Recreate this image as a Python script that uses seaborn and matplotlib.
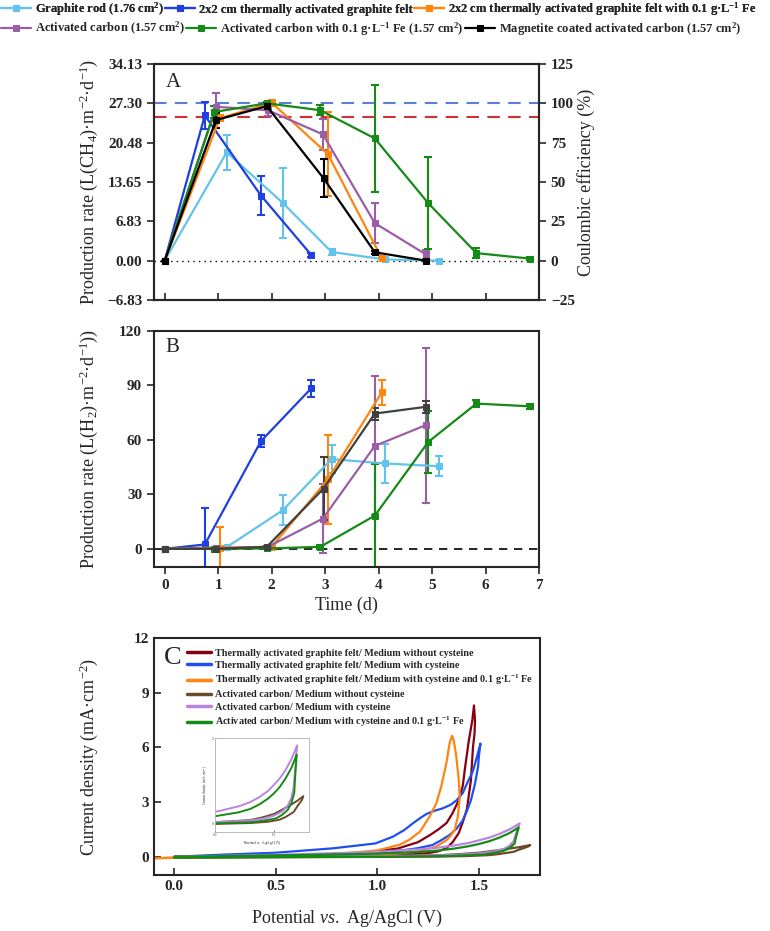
import matplotlib
matplotlib.use("Agg")
import matplotlib.pyplot as plt
import seaborn as sns
import numpy as np

# ---------------- data: panel A (CH4 production) ----------------
labels_series = [
    "Graphite rod (1.76 cm$^{\\mathbf{2}}$)",
    "2x2 cm thermally activated graphite felt",
    "2x2 cm thermally activated graphite felt with 0.1 g·L$^{\\mathbf{-1}}$ Fe",
    "Activated carbon (1.57 cm$^{\\mathbf{2}}$)",
    "Activated carbon with 0.1 g·L$^{\\mathbf{-1}}$ Fe (1.57 cm$^{\\mathbf{2}}$)",
    "Magnetite coated activated carbon (1.57 cm$^{\\mathbf{2}}$)",
]

gr_t = [0, 1.16, 2.21, 3.12, 4.12, 5.13]
gr_ch4 = [0, 18.8, 10.0, 1.5, 0.2, 0.0]
gr_ch4_err = [0, 3.0, 6.0, 0.6, 0.2, 0.1]
gr_h2 = [0, 0.9, 21.3, 49.4, 47.0, 45.5]
gr_h2_err = [0, 0.5, 8.3, 7.9, 11.0, 5.5]

tagf_t = [0, 0.75, 1.80, 2.74]
tagf_ch4 = [0, 25.2, 11.3, 1.0]
tagf_ch4_err = [0, 2.3, 3.3, 0.3]
tagf_h2 = [0, 2.4, 59.3, 88.4]
tagf_h2_err = [0, 20.0, 3.4, 4.5]

tagffe_t = [0, 1.03, 2.0, 3.05, 4.06]
tagffe_ch4 = [0, 24.7, 27.4, 18.5, 0.4]
tagffe_ch4_err = [0, 0.5, 0.4, 7.3, 0.2]
tagffe_h2 = [0, 0.7, 1.1, 38.2, 86.2]
tagffe_h2_err = [0, 11.5, 0.5, 24.3, 7.0]

ac_t = [0, 0.96, 1.93, 2.96, 3.93, 4.88]
ac_ch4 = [0, 26.7, 26.1, 21.9, 6.5, 1.1]
ac_ch4_err = [0, 2.4, 1.0, 2.7, 3.5, 0.8]
ac_h2 = [0, 0.2, 1.1, 16.7, 56.7, 68.1]
ac_h2_err = [0, 0.3, 0.5, 18.8, 38.3, 42.7]

acfe_t = [0, 0.93, 1.91, 2.91, 3.93, 4.93, 5.83, 6.83]
acfe_ch4 = [0, 25.8, 27.3, 26.1, 21.2, 9.95, 1.3, 0.35]
acfe_ch4_err = [0, 1.0, 0.3, 0.9, 9.3, 8.0, 0.9, 0.3]
acfe_h2 = [0, 0.0, 0.2, 1.1, 18.3, 58.9, 80.0, 78.5]
acfe_h2_err = [0, 0.3, 0.3, 1.0, 28.3, 17.0, 2.0, 1.5]

mag_t = [0, 0.96, 1.91, 2.97, 3.93, 4.88]
mag_ch4 = [0, 24.4, 26.8, 14.3, 1.45, 0.0]
mag_ch4_err = [0, 1.3, 0.6, 3.3, 0.3, 0.1]
mag_h2 = [0, 0.0, 1.1, 33.2, 74.5, 78.2]
mag_h2_err = [0, 0.3, 0.5, 17.4, 3.3, 3.5]

ce_100_line = 27.30      # 100 % coulombic efficiency
ce_red_line = 24.9

a_tick_labels = ["\u22126.83", "0.00", "6.83", "13.65", "20.48", "27.30", "34.13"]
a_tick_values = [-6.83, 0.0, 6.83, 13.65, 20.48, 27.30, 34.13]
ce_ticks = [-25, 0, 25, 50, 75, 100, 125]
ce_tick_labels = ["\u221225", "0", "25", "50", "75", "100", "125"]
day_ticks = [0, 1, 2, 3, 4, 5, 6, 7]
b_ticks = [0, 30, 60, 90, 120]

# ---------------- data: panel C (CV curves) ----------------
cv_labels = [
    "Thermally activated graphite felt/ Medium without cysteine",
    "Thermally activated graphite felt/ Medium with cysteine",
    "Thermally activated graphite felt/ Medium with cysteine and 0.1 g·L$^{\\mathbf{-1}}$ Fe",
    "Activated carbon/ Medium without cysteine",
    "Activated carbon/ Medium with cysteine",
    "Activated carbon/ Medium with cysteine and 0.1 g·L$^{\\mathbf{-1}}$ Fe",
]
tagf_nocys_V = [0.0, 0.5, 0.9, 1.1, 1.2, 1.26, 1.30, 1.34, 1.37, 1.40, 1.42, 1.43, 1.45, 1.467, 1.475,
                1.48, 1.478, 1.47, 1.46, 1.44, 1.42, 1.40, 1.37, 1.34, 1.30, 1.25, 1.1, 1.0, 0.5, 0.0]
tagf_nocys_I = [0.0, 0.05, 0.18, 0.45, 0.8, 1.2, 1.5, 1.85, 2.4, 3.1, 3.9, 4.8, 6.4, 7.5, 8.3,
                7.5, 6.8, 6.0, 4.2, 2.6, 1.9, 1.3, 0.8, 0.47, 0.3, 0.2, 0.12, 0.08, 0.0, -0.02]
tagf_cys_V = [0.0, 0.25, 0.5, 0.78, 0.99, 1.076, 1.13, 1.174, 1.21, 1.24, 1.28, 1.32, 1.36, 1.39, 1.42,
              1.44, 1.47, 1.49, 1.507, 1.50, 1.495, 1.48, 1.46, 1.44, 1.42, 1.39, 1.355, 1.31, 1.27,
              1.2, 1.11, 0.95, 0.78, 0.5, 0.3, 0.0]
tagf_cys_I = [0.0, 0.12, 0.22, 0.46, 0.73, 1.10, 1.45, 1.83, 2.12, 2.34, 2.52, 2.65, 2.85, 3.1, 3.5,
              4.0, 4.7, 5.5, 6.21, 5.6, 4.93, 4.0, 3.1, 2.5, 2.0, 1.55, 1.19, 0.88, 0.64,
              0.47, 0.33, 0.18, 0.09, 0.03, 0.0, -0.05]
tagf_cysfe_V = [-0.1, 0.0, 0.5, 0.8, 1.0, 1.11, 1.16, 1.21, 1.257, 1.29, 1.314, 1.339, 1.355, 1.367,
                1.375, 1.388, 1.40, 1.405, 1.40, 1.396, 1.38, 1.36, 1.339, 1.29, 1.207, 1.1, 1.0, 0.5, 0.0, -0.1]
tagf_cysfe_I = [-0.08, -0.06, 0.05, 0.15, 0.35, 0.66, 0.95, 1.39, 2.21, 2.94, 3.86, 5.13, 6.23, 6.63,
                6.41, 5.5, 4.22, 3.31, 2.7, 2.21, 1.48, 1.15, 0.90, 0.57, 0.29, 0.17, 0.1, 0.0, -0.05, -0.08]
ac_nocys_V = [0.0, 0.5, 1.0, 1.3, 1.4, 1.5, 1.57, 1.64, 1.7, 1.752, 1.74, 1.7, 1.67, 1.6, 1.55, 1.45,
              1.3, 1.0, 0.5, 0.0]
ac_nocys_I = [0.0, 0.0, 0.03, 0.08, 0.14, 0.22, 0.32, 0.43, 0.53, 0.64, 0.55, 0.4, 0.27, 0.15, 0.09, 0.04,
              0.01, -0.01, -0.03, -0.05]
ac_cys_V = [0.0, 0.3, 0.6, 1.0, 1.2, 1.3, 1.38, 1.45, 1.5, 1.55, 1.6, 1.65, 1.70, 1.695, 1.69, 1.68,
            1.67, 1.65, 1.62, 1.57, 1.5, 1.4, 1.3, 1.0, 0.5, 0.0]
ac_cys_I = [0.0, 0.06, 0.13, 0.27, 0.40, 0.50, 0.62, 0.76, 0.90, 1.05, 1.25, 1.50, 1.83, 1.70, 1.55, 1.2,
            0.85, 0.6, 0.42, 0.28, 0.18, 0.11, 0.07, 0.03, 0.0, -0.03]
ac_cysfe_V = [0.0, 0.3, 0.6, 1.0, 1.2, 1.3, 1.38, 1.45, 1.5, 1.55, 1.6, 1.65, 1.695, 1.693, 1.69, 1.68,
              1.675, 1.65, 1.62, 1.57, 1.52, 1.4, 1.3, 1.0, 0.5, 0.0]
ac_cysfe_I = [0.0, 0.04, 0.09, 0.17, 0.26, 0.34, 0.45, 0.58, 0.70, 0.85, 1.05, 1.30, 1.61, 1.5, 1.4, 1.0,
              0.72, 0.48, 0.32, 0.2, 0.12, 0.06, 0.03, 0.0, -0.02, -0.05]
c_ticks = [0.0, 0.5, 1.0, 1.5]
c_tick_labels = ["0.0", "0.5", "1.0", "1.5"]
c_yticks = [0, 3, 6, 9, 12]

# ---------------- styling ----------------
sns.set_style("ticks")
plt.rcParams["font.family"] = ["Liberation Serif", "DejaVu Serif"]
plt.rcParams["mathtext.fontset"] = "custom"
plt.rcParams["mathtext.rm"] = "Liberation Serif"
plt.rcParams["mathtext.it"] = "Liberation Serif:italic"
plt.rcParams["mathtext.bf"] = "Liberation Serif:bold"
plt.rcParams["axes.linewidth"] = 1.5

colors_ab = ["#63c3ea", "#1f3fe0", "#ff8410", "#9b5ea6", "#168a16", "#000000"]
colors_c = ["#860010", "#1f4ff0", "#ff8410", "#6b4a2b", "#b985e0", "#168a16"]

TICK_FS = 11
LAB_FS = 13

fig = plt.figure(figsize=(7.7, 9.31), dpi=100)
axA = fig.add_axes([0.2, 0.6778, 0.5, 0.2535])
axB = fig.add_axes([0.2, 0.391, 0.5, 0.2535])
axC = fig.add_axes([0.2, 0.0602, 0.5013, 0.2545])

series_A = [(gr_t, gr_ch4, gr_ch4_err), (tagf_t, tagf_ch4, tagf_ch4_err),
            (tagffe_t, tagffe_ch4, tagffe_ch4_err), (ac_t, ac_ch4, ac_ch4_err),
            (acfe_t, acfe_ch4, acfe_ch4_err), (mag_t, mag_ch4, mag_ch4_err)]
series_B = [(gr_t, gr_h2, gr_h2_err), (tagf_t, tagf_h2, tagf_h2_err),
            (tagffe_t, tagffe_h2, tagffe_h2_err), (ac_t, ac_h2, ac_h2_err),
            (acfe_t, acfe_h2, acfe_h2_err), (mag_t, mag_h2, mag_h2_err)]

# ---- Panel A ----
axA.axhline(ce_100_line, color="#5b7fd6", ls=(0, (6, 4)), lw=1.5, zorder=1)
axA.axhline(ce_red_line, color="#d03030", ls=(0, (6, 4)), lw=1.5, zorder=1)
axA.axhline(0, color="black", ls=(0, (1, 3)), lw=1.0, zorder=1)
for (t, v, e), c, lab in zip(series_A, colors_ab, labels_series):
    axA.errorbar(t, v, yerr=e, fmt="none", ecolor=c, elinewidth=1.5, capsize=3, capthick=1.5, zorder=2)
    sns.lineplot(x=t, y=v, ax=axA, color=c, marker="s", markersize=4, markeredgecolor=c,
                 linewidth=1.6, estimator=None, sort=False, label=lab, zorder=3)
handles, labs = axA.get_legend_handles_labels()
if axA.get_legend() is not None:
    axA.get_legend().remove()
axA.set_xlim(-0.2, 7.0)
axA.set_ylim(-6.83, 34.13)
axA.set_xticks(day_ticks)
axA.set_xticklabels([])
axA.tick_params(axis="x", direction="in", length=5, width=1.2)
axA.set_yticks(a_tick_values, a_tick_labels, fontweight="bold", fontsize=TICK_FS)
axA.tick_params(axis="y", direction="out", length=5, width=1.2)
axA.set_xlabel("")
axA.set_ylabel("Production rate (L(CH$_4$)·m$^{-2}$·d$^{-1}$)", fontsize=LAB_FS)
axA.yaxis.set_label_coords(-0.14, 0.5)
axA.text(0.03, 0.92, "A", transform=axA.transAxes, fontsize=15, va="center", ha="left")

axA2 = axA.twinx()
axA2.set_ylim(-25, 125)
axA2.set_yticks(ce_ticks, ce_tick_labels, fontweight="bold", fontsize=TICK_FS)
axA2.tick_params(axis="y", direction="out", length=5, width=1.2)
axA2.set_ylabel("Coulombic efficiency (%)", fontsize=LAB_FS)
axA2.yaxis.set_label_coords(1.10, 0.5)
for sp in axA2.spines.values():
    sp.set_linewidth(1.5)

# ---- Panel B ----
axB.axhline(0, color="black", ls=(0, (5, 4)), lw=1.2, zorder=1)
colors_b = colors_ab[:5] + ["#404040"]
for (t, v, e), c in zip(series_B, colors_b):
    axB.errorbar(t, v, yerr=e, fmt="none", ecolor=c, elinewidth=1.5, capsize=3, capthick=1.5, zorder=2)
    sns.lineplot(x=t, y=v, ax=axB, color=c, marker="s", markersize=4, markeredgecolor=c,
                 linewidth=1.6, estimator=None, sort=False, zorder=3)
axB.set_xlim(-0.2, 7.0)
axB.set_ylim(-10, 120)
axB.set_xticks(day_ticks, [str(d) for d in day_ticks], fontweight="bold", fontsize=TICK_FS)
axB.set_yticks(b_ticks, [str(b) for b in b_ticks], fontweight="bold", fontsize=TICK_FS)
axB.tick_params(direction="out", length=5, width=1.2)
axB.set_xlabel("Time (d)", fontsize=LAB_FS)
axB.xaxis.set_label_coords(0.5, -0.125)
axB.set_ylabel("Production rate (L(H$_2$)·m$^{-2}$·d$^{-1}$))", fontsize=LAB_FS)
axB.yaxis.set_label_coords(-0.14, 0.5)
axB.text(0.03, 0.928, "B", transform=axB.transAxes, fontsize=15, va="center", ha="left")

# ---- Panel C ----
cv_series = [(tagf_nocys_V, tagf_nocys_I), (tagf_cys_V, tagf_cys_I), (tagf_cysfe_V, tagf_cysfe_I),
             (ac_nocys_V, ac_nocys_I), (ac_cys_V, ac_cys_I), (ac_cysfe_V, ac_cysfe_I)]
for (v, i), c, lab in zip(cv_series, colors_c, cv_labels):
    sns.lineplot(x=v, y=i, ax=axC, color=c, linewidth=1.6, estimator=None, sort=False, label=lab)
hC, lC = axC.get_legend_handles_labels()
if axC.get_legend() is not None:
    axC.get_legend().remove()
legC = axC.legend(hC, lC, loc="upper left", bbox_to_anchor=(0.085, 0.955), frameon=False,
                  prop={"family": "Liberation Serif", "weight": "bold", "size": 7.3},
                  handlelength=2.4, handletextpad=0.35, labelspacing=0.3, borderpad=0, borderaxespad=0)
for ln in legC.get_lines():
    ln.set_linewidth(2.5)
axC.set_xlim(-0.1, 1.8)
axC.set_ylim(-1, 12)
axC.set_xticks(c_ticks, c_tick_labels, fontweight="bold", fontsize=TICK_FS)
axC.set_yticks(c_yticks, [str(y) for y in c_yticks], fontweight="bold", fontsize=TICK_FS)
axC.tick_params(direction="in", length=5, width=1.2)
axC.set_xlabel("Potential $\\mathit{vs.}$ Ag/AgCl (V)", fontsize=LAB_FS)
axC.xaxis.set_label_coords(0.5, -0.14)
axC.set_ylabel("Current density (mA·cm$^{-2}$)", fontsize=LAB_FS)
axC.yaxis.set_label_coords(-0.14, 0.5)
axC.text(0.025, 0.916, "C", transform=axC.transAxes, fontsize=19, va="center", ha="left")

# ---- Inset ----
axI = fig.add_axes([0.2792, 0.1063, 0.1221, 0.1010])
for (v, i), c in zip(cv_series[3:], colors_c[3:]):
    sns.lineplot(x=v, y=i, ax=axI, color=c, linewidth=1.4, estimator=None, sort=False)
axI.set_xlim(1.0, 1.8)
axI.set_ylim(-0.2, 2.0)
axI.set_xticks([1.0, 1.5], ["1.0", "1.5"], fontsize=2.5)
axI.set_yticks([0, 2], ["0", "2"], fontsize=2.5)
axI.tick_params(direction="in", length=1.5, width=0.4, pad=1)
axI.set_xlabel("Potential $\\mathit{vs.}$ Ag/AgCl (V)", fontsize=2.5, labelpad=1)
axI.set_ylabel("Current density (mA·cm$^{-2}$)", fontsize=2.5, labelpad=1)
for sp in axI.spines.values():
    sp.set_linewidth(0.6)
    sp.set_color("#b0b0b0")

# ---- Figure legend (two rows) ----
leg_prop = {"family": "Liberation Serif", "weight": "bold", "size": 9.0}
row1 = fig.legend(handles[:3], labs[:3], loc="center left", bbox_to_anchor=(0.0, 0.990), ncol=3,
                  frameon=False, prop=leg_prop, handlelength=2.4, handletextpad=0.3,
                  columnspacing=0.1, borderaxespad=0, borderpad=0.1)
fig.add_artist(row1)
fig.legend(handles[3:], labs[3:], loc="center left", bbox_to_anchor=(0.0, 0.969), ncol=3,
           frameon=False, prop=leg_prop, handlelength=2.4, handletextpad=0.3,
           columnspacing=0.1, borderaxespad=0, borderpad=0.1)

fig.savefig("out.png", dpi=100)
